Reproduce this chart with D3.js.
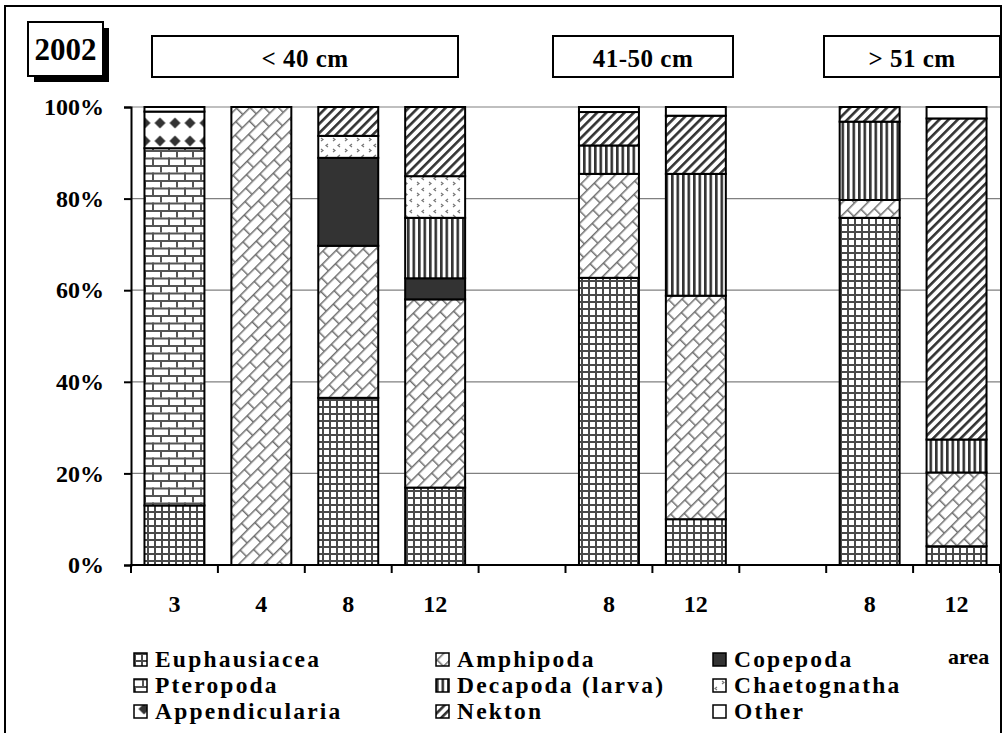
<!DOCTYPE html>
<html>
<head>
<meta charset="utf-8">
<script src="https://cdn.jsdelivr.net/npm/d3@7"></script>
<style>
  body { margin: 0; background: #fff; }
  text { font-family: "Liberation Serif", "Times New Roman", serif; font-weight: bold; fill: #000; }
</style>
</head>
<body>
<div id="chart"></div>
<script>
// slots along the x axis (empty ones separate the size classes)
var slotKeys = ["a3", "a4", "a8", "a12", "gap1", "b8", "b12", "gap2", "c8", "c12"];
var slotLabels = ["3", "4", "8", "12", "", "8", "12", "", "8", "12"];

var sizeClasses = ["< 40 cm", "41-50 cm", "> 51 cm"];
var yearLabel = "2002";
var yTicks = [0, 20, 40, 60, 80, 100];

// stacking order, bottom to top
var taxa = ["Euphausiacea", "Pteropoda", "Amphipoda", "Copepoda", "Decapoda (larva)",
            "Chaetognatha", "Appendicularia", "Nekton", "Other"];

// percent of diet per slot
var euphausiacea   = [13,   0,  36.5, 16.9, 0, 62.7, 10.0, 0, 75.8,  4.1];
var pteropoda      = [78,   0,   0,    0,   0,  0,    0,   0,  0,    0];
var amphipoda      = [0,  100,  33.2, 41.1, 0, 22.7, 48.8, 0,  3.9, 16.1];
var copepoda       = [0,    0,  19.2,  4.6, 0,  0,    0,   0,  0,    0];
var decapoda       = [0,    0,   0,   13.2, 0,  6.2, 26.6, 0, 17.1,  7.2];
var chaetognatha   = [0,    0,   4.8,  9.1, 0,  0,    0,   0,  0,    0];
var appendicularia = [8,    0,   0,    0,   0,  0,    0,   0,  0,    0];
var nekton         = [0,    0,   6.3, 15.1, 0,  7.3, 12.7, 0,  3.2, 70.1];
var other          = [1,    0,   0,    0,   0,  1.1,  1.9, 0,  0,    2.5];

var seriesValues = [euphausiacea, pteropoda, amphipoda, copepoda, decapoda,
                    chaetognatha, appendicularia, nekton, other];

// legend grid as in the original (3 columns x 3 rows)
var legendOrder = [
  ["Euphausiacea", "Amphipoda", "Copepoda"],
  ["Pteropoda", "Decapoda (larva)", "Chaetognatha"],
  ["Appendicularia", "Nekton", "Other"]
];

var W = 1003, H = 733;
var plot = {left: 131, right: 1000, top: 107, bottom: 565};

var svg = d3.select("#chart").append("svg")
  .attr("width", W)
  .attr("height", H);

// ---- fill patterns ----
var defs = svg.append("defs");
var patId = {};
taxa.forEach(function(t, i) { patId[t] = "pat" + i; });

function newPattern(t, w, h, transform) {
  var p = defs.append("pattern")
    .attr("id", patId[t])
    .attr("patternUnits", "userSpaceOnUse")
    .attr("width", w).attr("height", h);
  if (transform) p.attr("patternTransform", transform);
  p.append("rect").attr("width", w).attr("height", h).attr("fill", "#fff");
  return p;
}

// small grid
var pe = newPattern("Euphausiacea", 7, 7);
pe.append("rect").attr("width", 7).attr("height", 2).attr("fill", "#4a4a4a");
pe.append("rect").attr("width", 2).attr("height", 7).attr("fill", "#4a4a4a");

// horizontal brick
var pp = newPattern("Pteropoda", 16, 15);
pp.append("rect").attr("y", 0).attr("width", 16).attr("height", 2).attr("fill", "#555");
pp.append("rect").attr("y", 7.5).attr("width", 16).attr("height", 2).attr("fill", "#555");
pp.append("rect").attr("x", 0).attr("y", 0).attr("width", 2).attr("height", 7.5).attr("fill", "#555");
pp.append("rect").attr("x", 8).attr("y", 7.5).attr("width", 2).attr("height", 7.5).attr("fill", "#555");

// diagonal brick (long "/" lines, short staggered connectors)
var pa = newPattern("Amphipoda", 20, 18, "rotate(-45)");
pa.append("rect").attr("y", 0).attr("width", 20).attr("height", 1.5).attr("fill", "#6f6f6f");
pa.append("rect").attr("y", 9).attr("width", 20).attr("height", 1.5).attr("fill", "#6f6f6f");
pa.append("rect").attr("x", 0).attr("y", 0).attr("width", 1.5).attr("height", 9).attr("fill", "#6f6f6f");
pa.append("rect").attr("x", 10).attr("y", 9).attr("width", 1.5).attr("height", 9).attr("fill", "#6f6f6f");

// solid dark
var pc = newPattern("Copepoda", 4, 4);
pc.select("rect").attr("fill", "#333");

// vertical stripes
var pd = newPattern("Decapoda (larva)", 5.5, 5.5);
pd.append("rect").attr("width", 2.6).attr("height", 5.5).attr("fill", "#333");

// sparse confetti
var pch = newPattern("Chaetognatha", 12, 11);
pch.append("path").attr("d", "M4,1 l-2,1.5 l2,1.5 M9,6 l2,1.5 l-2,1.5")
  .attr("fill", "none").attr("stroke", "#777").attr("stroke-width", 1.2);

// diamonds
var pap = newPattern("Appendicularia", 15, 18);
pap.attr("x", 152.5).attr("y", 114);
pap.append("path").attr("d", "M7.5,3.5 L13,9 L7.5,14.5 L2,9 Z").attr("fill", "#333");

// wide upward diagonal
var pn = newPattern("Nekton", 6.5, 6.5, "rotate(45)");
pn.append("rect").attr("width", 2.6).attr("height", 6.5).attr("fill", "#333");

newPattern("Other", 4, 4);

// ---- outer frame ----
svg.append("rect")
  .attr("x", 5).attr("y", 6)
  .attr("width", 996).attr("height", 760)
  .attr("fill", "none").attr("stroke", "#000").attr("stroke-width", 2);

// ---- scales ----
var x = d3.scaleBand()
  .domain(slotKeys)
  .range([plot.left, plot.right])
  .paddingInner(0.31)
  .paddingOuter(0.155);

var y = d3.scaleLinear()
  .domain([0, 100])
  .range([plot.bottom, plot.top]);

// gridlines
svg.append("g")
  .selectAll("line")
  .data(yTicks.filter(function(d) { return d > 0; }))
  .enter().append("line")
  .attr("x1", plot.left).attr("x2", plot.right)
  .attr("y1", function(d) { return y(d); })
  .attr("y2", function(d) { return y(d); })
  .attr("stroke", "#808080").attr("stroke-width", 1.2);

// ---- stacked bars ----
var table = slotKeys.map(function(k, i) {
  var row = {slot: k};
  taxa.forEach(function(t, j) { row[t] = seriesValues[j][i]; });
  return row;
});

var stacked = d3.stack().keys(taxa)(table);

svg.append("g")
  .selectAll("g")
  .data(stacked)
  .enter().append("g")
  .attr("fill", function(s) { return "url(#" + patId[s.key] + ")"; })
  .selectAll("rect")
  .data(function(s) { return s.filter(function(d) { return d[1] - d[0] > 0; }); })
  .enter().append("rect")
  .attr("x", function(d) { return x(d.data.slot); })
  .attr("y", function(d) { return y(d[1]); })
  .attr("width", x.bandwidth())
  .attr("height", function(d) { return y(d[0]) - y(d[1]); })
  .attr("stroke", "#000")
  .attr("stroke-width", 2);

// ---- axes ----
var yAxis = svg.append("g")
  .attr("transform", "translate(" + plot.left + ",0)")
  .call(d3.axisLeft(y).tickValues(yTicks).tickSize(7).tickPadding(20)
        .tickFormat(function(d) { return d + "%"; }));
yAxis.select(".domain").attr("stroke-width", 2);
yAxis.selectAll(".tick line").attr("stroke-width", 2);
yAxis.selectAll("text").style("font-size", "24px");

// slot boundary ticks on x axis
var step = x.step();
var xBound = d3.range(slotKeys.length + 1).map(function(i) { return plot.left + i * step; });
var xAxis = svg.append("g");
xAxis.append("line")
  .attr("x1", plot.left - 1).attr("x2", plot.right)
  .attr("y1", plot.bottom).attr("y2", plot.bottom)
  .attr("stroke", "#000").attr("stroke-width", 2);
xAxis.selectAll(".xt")
  .data(xBound)
  .enter().append("line")
  .attr("x1", function(d) { return d; }).attr("x2", function(d) { return d; })
  .attr("y1", plot.bottom).attr("y2", plot.bottom + 8)
  .attr("stroke", "#000").attr("stroke-width", 2);
xAxis.selectAll("text")
  .data(slotKeys)
  .enter().append("text")
  .attr("x", function(d) { return x(d) + x.bandwidth() / 2; })
  .attr("y", 612)
  .attr("text-anchor", "middle")
  .style("font-size", "24px")
  .text(function(d, i) { return slotLabels[i]; });

svg.append("text")
  .attr("x", 948).attr("y", 664)
  .style("font-size", "22px")
  .text("area");

// ---- header boxes ----
var yearBox = svg.append("g");
yearBox.append("rect").attr("x", 34).attr("y", 28).attr("width", 75).attr("height", 54).attr("fill", "#000");
yearBox.append("rect").attr("x", 28).attr("y", 22).attr("width", 75).attr("height", 54)
  .attr("fill", "#fff").attr("stroke", "#000").attr("stroke-width", 2);
yearBox.append("text").attr("x", 65.5).attr("y", 60).attr("text-anchor", "middle")
  .style("font-size", "31px").text(yearLabel);

var headerSpans = [[152, 458], [553, 733], [824, 1000]];
var headers = svg.append("g")
  .selectAll("g")
  .data(sizeClasses)
  .enter().append("g");
headers.append("rect")
  .attr("x", function(d, i) { return headerSpans[i][0]; })
  .attr("y", 36)
  .attr("width", function(d, i) { return headerSpans[i][1] - headerSpans[i][0]; })
  .attr("height", 41)
  .attr("fill", "#fff").attr("stroke", "#000").attr("stroke-width", 2);
headers.append("text")
  .attr("x", function(d, i) { return (headerSpans[i][0] + headerSpans[i][1]) / 2; })
  .attr("y", 67)
  .attr("text-anchor", "middle")
  .style("font-size", "25px")
  .style("letter-spacing", "0.5px")
  .text(function(d) { return d; });

// ---- legend ----
var colX = [134, 436, 713];
var rowY = [660, 686, 712];
var legend = svg.append("g");
legendOrder.forEach(function(row, r) {
  row.forEach(function(t, c) {
    var g = legend.append("g").attr("transform", "translate(" + colX[c] + "," + rowY[r] + ")");
    g.append("rect")
      .attr("x", 0).attr("y", -7)
      .attr("width", 13).attr("height", 13)
      .attr("fill", "url(#" + patId[t] + ")")
      .attr("stroke", "#000").attr("stroke-width", 1.5);
    g.append("text")
      .attr("x", 21).attr("y", 7)
      .style("font-size", "23.5px")
      .style("letter-spacing", "2.2px")
      .text(t);
  });
});
</script>
</body>
</html>
